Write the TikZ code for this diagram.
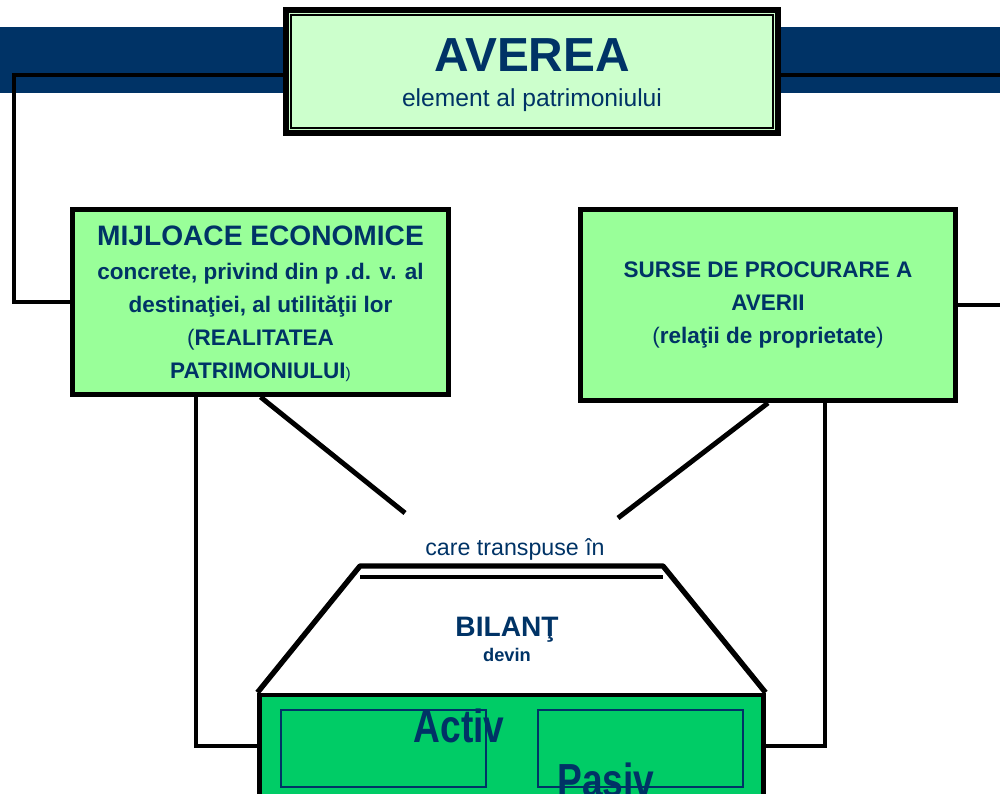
\documentclass[tikz,border=0pt]{standalone}
\usepackage{fontspec}
\setmainfont{Liberation Sans}
\newfontfamily\narrowfont[FakeStretch=0.8]{Liberation Sans}

\definecolor{navy}{HTML}{003366}
\definecolor{palegreen}{HTML}{CCFFCC}
\definecolor{lightgreen}{HTML}{99FF99}
\definecolor{bilgreen}{HTML}{00CC66}

\begin{document}
\begin{tikzpicture}[x=0.025cm, y=-0.025cm,
    wire/.style={line width=3.5pt},
    greenbox/.style={draw, line width=3.5pt, fill=lightgreen, inner sep=0pt},
    boxtext/.style={text=navy, align=center, inner sep=0pt,
      font=\bfseries\fontsize{16}{23.6}\selectfont},
    halfbox/.style={draw=navy, line width=1.3pt, inner sep=0pt,
      minimum width=5.125cm, minimum height=1.925cm},
    bigword/.style={text=navy, inner sep=0pt, anchor=base,
      font=\narrowfont\bfseries\fontsize{33}{33}\selectfont}
  ]

  \useasboundingbox (0,0) rectangle (1000,794);
  \clip (0,0) rectangle (1000,794);

  % Band
  \fill[navy] (0,27) rectangle (1000,93);

  % Boxes
  \node[draw, line width=4.3pt, fill=palegreen, inner sep=0pt,
    minimum width=12.3cm, minimum height=3.075cm] (avere) at (532,71.5) {};
  \draw[line width=1.6pt] ([shift={(8,8)}]avere.north west)
    rectangle ([shift={(-8,-8)}]avere.south east);
  \node[text=navy, inner sep=0pt, font=\bfseries\fontsize{34}{34}\selectfont]
    (averetitle) at (532,55) {AVEREA};
  \node[text=navy, inner sep=0pt, font=\fontsize{17.5}{20}\selectfont]
    (averesub) at (532,100) {element al patrimoniului};

  \node[greenbox, minimum width=9.4cm, minimum height=4.625cm] (mijl) at (260.5,302) {};
  \node[boxtext] (mijltxt) at (260.5,304) {%
    {\fontsize{20}{23.6}\selectfont MIJLOACE ECONOMICE}\\
    concrete, privind din p .d. v. al\\
    destinaţiei, al utilităţii lor\\
    {\mdseries(}REALITATEA\\
    PATRIMONIULUI{\mdseries\fontsize{11}{11}\selectfont)}};

  \node[greenbox, minimum width=9.375cm, minimum height=4.775cm] (surse) at (768,305) {};
  \node[boxtext] (sursetxt) at (768,305) {%
    SURSE DE PROCURARE A\\
    AVERII\\
    {\mdseries(}relaţii de proprietate{\mdseries)}};

  \node[draw, line width=3.5pt, fill=bilgreen, inner sep=0pt,
    minimum width=12.575cm, minimum height=3.625cm] (bil) at (511.5,767.5) {};
  \node[halfbox] (activbox) at (383.5,748.5) {};
  \node[halfbox] (pasivbox) at (640.5,748.5) {};
  \node[bigword] (activ) at (459,742) {Activ};
  \node[bigword] (pasiv) at (606,796) {Pasiv};

  % Top joints
  \coordinate (leftx) at (14,0);
  \coordinate (rightx) at (1020,0);
  \draw[wire] (avere.west |- 0,75) -- (leftx |- 0,75) -- (leftx |- mijl.west) -- (mijl.west);
  \draw[wire] (avere.east |- 0,75) -- (rightx |- 0,75) -- (rightx |- surse.east) -- (surse.east);

  % Slants
  \coordinate (careL) at (405,513);
  \coordinate (careR) at (618,518);
  \draw[wire] (mijl.south) -- (careL);
  \draw[wire] (surse.south) -- (careR);
  \node[text=navy, inner sep=0pt, anchor=base, font=\fontsize{16.5}{18}\selectfont]
    (caretxt) at (515,555) {care transpuse în};

  % leg[box, corner, anchor]
  \def\leg[#1, #2, #3]{
    \draw[wire] (#1.south -| #2) -- (#2) -- (#2 -| bil.#3);
  }
  \coordinate (legL) at (196,746);
  \coordinate (legR) at (825,746);
  \leg[mijl, legL, west]
  \leg[surse, legR, east]

  % Roof
  \coordinate (roofL) at (360,566);
  \coordinate (roofR) at (663,566);
  \draw[line width=3.8pt, line join=round] (bil.north west) -- (roofL) -- (roofR) -- (bil.north east);
  \draw[line width=3pt] ([shift={(0,11)}]roofL) -- ([shift={(0,11)}]roofR);
  \node[text=navy, inner sep=0pt, anchor=base, font=\bfseries\fontsize{20}{20}\selectfont]
    (bilant) at (507,636) {BILANŢ};
  \node[text=navy, inner sep=0pt, anchor=base, font=\bfseries\fontsize{13}{13}\selectfont]
    (devin) at (507,661) {devin};

\end{tikzpicture}
\end{document}
